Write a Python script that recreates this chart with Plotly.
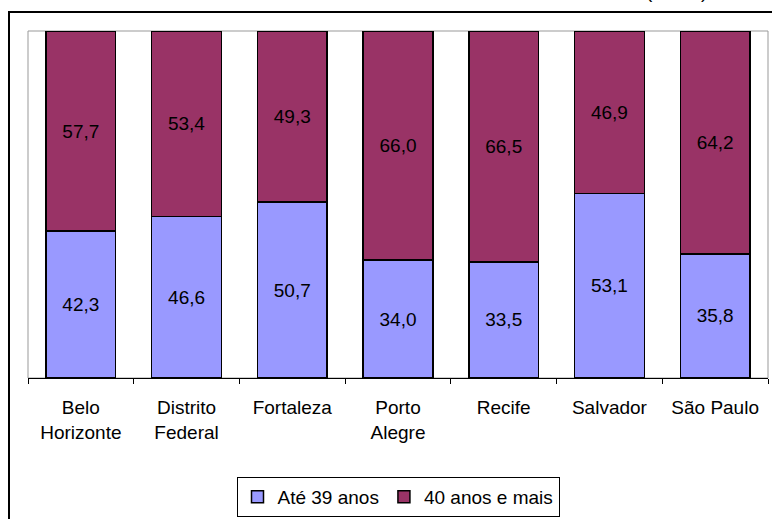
import plotly.graph_objects as go

categories = ["Belo<br>Horizonte", "Distrito<br>Federal", "Fortaleza", "Porto<br>Alegre", "Recife", "Salvador", "São Paulo"]
ate39 = [42.3, 46.6, 50.7, 34.0, 33.5, 53.1, 35.8]
mais40 = [57.7, 53.4, 49.3, 66.0, 66.5, 46.9, 64.2]

def fmt(v):
    return f"{v:.1f}".replace(".", ",")

W, H = 772, 519
L, R, T, B = 28, 4, 31, 141
pw, ph = W - L - R, H - T - B

font = dict(family="Liberation Sans, Arial, sans-serif", size=19, color="black")

fig = go.Figure()
fig.add_trace(go.Bar(x=categories, y=ate39, name="Até 39 anos",
                     marker=dict(color="#9999FF", line=dict(color="black", width=1.5)),
                     text=[fmt(v) for v in ate39], textposition="inside",
                     insidetextanchor="middle", textfont=font, textangle=0))
fig.add_trace(go.Bar(x=categories, y=mais40, name="40 anos e mais",
                     marker=dict(color="#993366", line=dict(color="black", width=1.5)),
                     text=[fmt(v) for v in mais40], textposition="inside",
                     insidetextanchor="middle", textfont=font, textangle=0))

def px2x(p):
    return (p - L) / pw

def py2y(p):
    return (H - B - p) / ph

fig.update_layout(
    width=W, height=H, barmode="stack", bargap=0.34,
    margin=dict(l=L, r=R, t=T, b=B, autoexpand=False),
    paper_bgcolor="white", plot_bgcolor="white",
    font=font, uniformtext=dict(mode="show", minsize=19),
    xaxis=dict(showline=True, linecolor="black", linewidth=1, ticks="outside",
               tickson="boundaries", ticklen=5, tickcolor="black",
               tickfont=font, showgrid=False, ticklabelstandoff=12),
    yaxis=dict(range=[0, 100], visible=False, showgrid=False),
    legend=dict(orientation="h", x=0.5, xanchor="center", y=py2y(477), yanchor="top",
                bordercolor="black", borderwidth=1, font=font, traceorder="normal",
                itemwidth=30),
    shapes=[
        dict(type="rect", xref="paper", yref="paper", x0=0, x1=1, y0=0, y1=1,
             line=dict(color="#999999", width=1), layer="below"),
        dict(type="rect", xref="paper", yref="paper", x0=px2x(9), x1=px2x(800),
             y0=py2y(560), y1=py2y(12), line=dict(color="black", width=2)),
    ],
    annotations=[dict(text="(em %)", xref="paper", yref="paper", x=px2x(676), y=py2y(4),
                      xanchor="center", yanchor="bottom", showarrow=False, font=font)],
)

fig.write_html("out.html", config={"displayModeBar": False},
               post_script="document.body.style.margin='0';document.body.style.overflow='hidden';")
